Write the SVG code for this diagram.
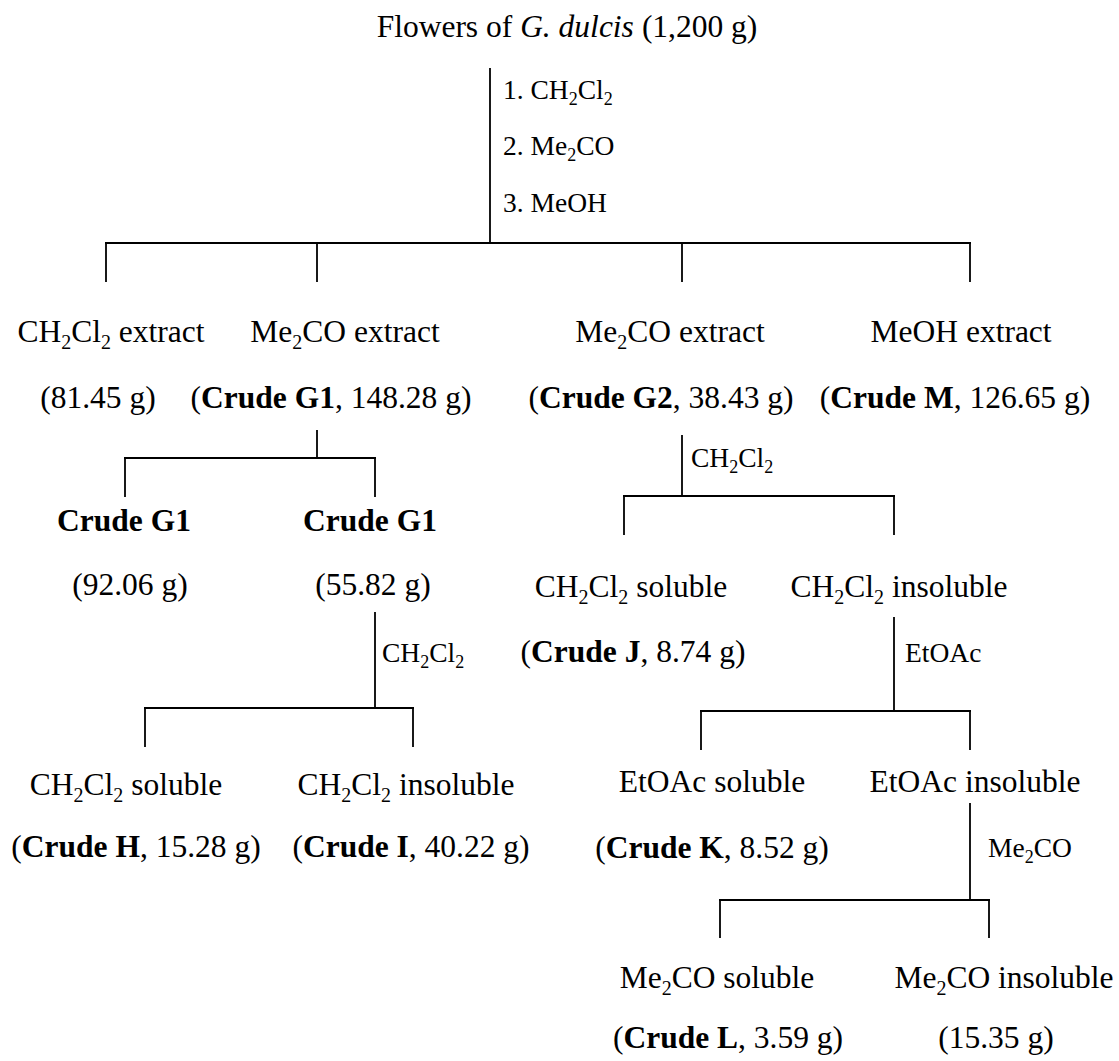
<svg xmlns="http://www.w3.org/2000/svg" width="1119" height="1061" viewBox="0 0 1119 1061">
<style>
text{font-family:"Liberation Serif","Times New Roman",serif;fill:#000}
.m{font-size:31.5px}
.l{font-size:27.5px}
.b{font-weight:bold}
.i{font-style:italic}
.s{font-size:20px}
.ls{font-size:18px}
.c{text-anchor:middle}
#connectors line{stroke:#000;stroke-width:1.8;fill:none}
</style>
<rect width="1119" height="1061" fill="#fff"/>
<g id="connectors">
<line x1="490" y1="68" x2="490" y2="243"/>
<line x1="105" y1="243" x2="971" y2="243"/>
<line x1="106" y1="243" x2="106" y2="282"/>
<line x1="317" y1="243" x2="317" y2="282"/>
<line x1="682" y1="243" x2="682" y2="282"/>
<line x1="970" y1="243" x2="970" y2="282"/>
<line x1="317" y1="430" x2="317" y2="458"/>
<line x1="124" y1="458" x2="376" y2="458"/>
<line x1="125" y1="458" x2="125" y2="497"/>
<line x1="375" y1="458" x2="375" y2="497"/>
<line x1="375" y1="612" x2="375" y2="708"/>
<line x1="144" y1="708" x2="414" y2="708"/>
<line x1="145" y1="708" x2="145" y2="747"/>
<line x1="413" y1="708" x2="413" y2="747"/>
<line x1="682" y1="435" x2="682" y2="496"/>
<line x1="623" y1="496" x2="895" y2="496"/>
<line x1="624" y1="496" x2="624" y2="535"/>
<line x1="894" y1="496" x2="894" y2="535"/>
<line x1="894" y1="617" x2="894" y2="711"/>
<line x1="700" y1="711" x2="971" y2="711"/>
<line x1="701" y1="711" x2="701" y2="750"/>
<line x1="970" y1="711" x2="970" y2="750"/>
<line x1="970" y1="803" x2="970" y2="900"/>
<line x1="719" y1="900" x2="990" y2="900"/>
<line x1="720" y1="900" x2="720" y2="938"/>
<line x1="989" y1="900" x2="989" y2="938"/>
</g>
<g id="labels">
<text class="l" x="503" y="99">1. CH<tspan class="ls" dy="6">2</tspan><tspan dy="-6">Cl</tspan><tspan class="ls" dy="6">2</tspan></text>
<text class="l" x="503" y="155">2. Me<tspan class="ls" dy="6">2</tspan><tspan dy="-6">CO</tspan></text>
<text class="l" x="503" y="212">3. MeOH</text>
<text class="l" x="691" y="467">CH<tspan class="ls" dy="6">2</tspan><tspan dy="-6">Cl</tspan><tspan class="ls" dy="6">2</tspan></text>
<text class="l" x="382" y="662">CH<tspan class="ls" dy="6">2</tspan><tspan dy="-6">Cl</tspan><tspan class="ls" dy="6">2</tspan></text>
<text class="l" x="905" y="662">EtOAc</text>
<text class="l" x="988" y="857">Me<tspan class="ls" dy="6">2</tspan><tspan dy="-6">CO</tspan></text>
</g>
<g id="flowers">
<text class="m c" x="567" y="37">Flowers of <tspan class="i">G. dulcis</tspan><tspan dx="8">(1,200 g)</tspan></text>
</g>
<g id="ch2cl2-extract">
<text class="m c" x="111" y="342">CH<tspan class="s" dy="7">2</tspan><tspan dy="-7">Cl</tspan><tspan class="s" dy="7">2</tspan><tspan dy="-7"> extract</tspan></text>
<text class="m c" x="98" y="408">(81.45 g)</text>
</g>
<g id="crude-g1">
<text class="m c" x="345" y="342">Me<tspan class="s" dy="7">2</tspan><tspan dy="-7">CO extract</tspan></text>
<text class="m c" x="331" y="408">(<tspan class="b">Crude G1</tspan>, 148.28 g)</text>
</g>
<g id="crude-g2">
<text class="m c" x="670" y="342">Me<tspan class="s" dy="7">2</tspan><tspan dy="-7">CO extract</tspan></text>
<text class="m c" x="661" y="408">(<tspan class="b">Crude G2</tspan>, 38.43 g)</text>
</g>
<g id="crude-m">
<text class="m c" x="961" y="342">MeOH<tspan dx="8">extract</tspan></text>
<text class="m c" x="955" y="408">(<tspan class="b">Crude M</tspan>, 126.65 g)</text>
</g>
<g id="crude-g1-a">
<text class="m c b" x="124" y="531">Crude G1</text>
<text class="m c" x="130" y="595">(92.06 g)</text>
</g>
<g id="crude-g1-b">
<text class="m c b" x="370" y="531">Crude G1</text>
<text class="m c" x="373" y="595">(55.82 g)</text>
</g>
<g id="crude-j">
<text class="m c" x="631" y="597">CH<tspan class="s" dy="7">2</tspan><tspan dy="-7">Cl</tspan><tspan class="s" dy="7">2</tspan><tspan dy="-7"> soluble</tspan></text>
<text class="m c" x="633" y="662">(<tspan class="b">Crude J</tspan>, 8.74 g)</text>
</g>
<g id="ch2cl2-insoluble-g2">
<text class="m c" x="899" y="597">CH<tspan class="s" dy="7">2</tspan><tspan dy="-7">Cl</tspan><tspan class="s" dy="7">2</tspan><tspan dy="-7"> insoluble</tspan></text>
</g>
<g id="crude-h">
<text class="m c" x="126" y="795">CH<tspan class="s" dy="7">2</tspan><tspan dy="-7">Cl</tspan><tspan class="s" dy="7">2</tspan><tspan dy="-7"> soluble</tspan></text>
<text class="m c" x="136" y="857">(<tspan class="b">Crude H</tspan>, 15.28 g)</text>
</g>
<g id="crude-i">
<text class="m c" x="406" y="795">CH<tspan class="s" dy="7">2</tspan><tspan dy="-7">Cl</tspan><tspan class="s" dy="7">2</tspan><tspan dy="-7"> insoluble</tspan></text>
<text class="m c" x="411" y="857">(<tspan class="b">Crude I</tspan>, 40.22 g)</text>
</g>
<g id="crude-k">
<text class="m c" x="712" y="792">EtOAc soluble</text>
<text class="m c" x="712" y="858">(<tspan class="b">Crude K</tspan>, 8.52 g)</text>
</g>
<g id="etoac-insoluble">
<text class="m c" x="975" y="792">EtOAc insoluble</text>
</g>
<g id="crude-l">
<text class="m c" x="717" y="988">Me<tspan class="s" dy="7">2</tspan><tspan dy="-7">CO soluble</tspan></text>
<text class="m c" x="728" y="1048">(<tspan class="b">Crude L</tspan>, 3.59 g)</text>
</g>
<g id="me2co-insoluble">
<text class="m c" x="1004" y="988">Me<tspan class="s" dy="7">2</tspan><tspan dy="-7">CO insoluble</tspan></text>
<text class="m c" x="996" y="1048">(15.35 g)</text>
</g>
</svg>
